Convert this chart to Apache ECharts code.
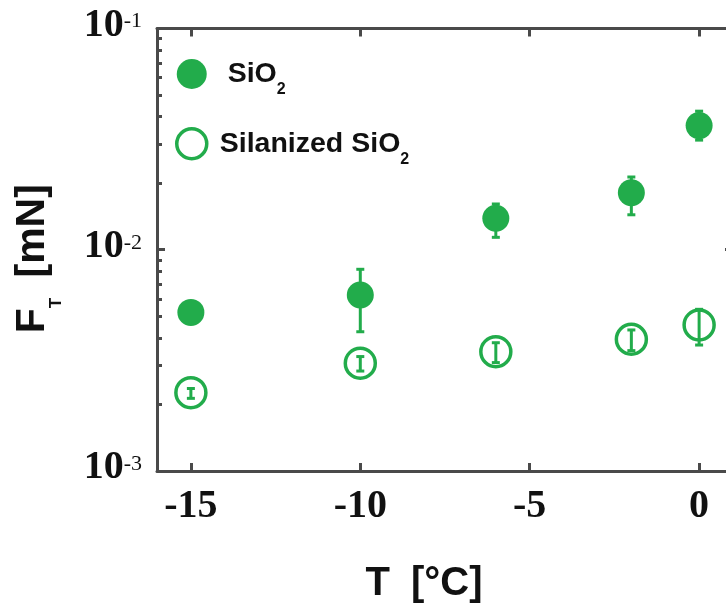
<!DOCTYPE html>
<html>
<head>
<meta charset="utf-8">
<script src="https://cdn.jsdelivr.net/npm/echarts@6/dist/echarts.min.js"></script>
<style>html,body{margin:0;padding:0;background:#fff}#c{width:726px;height:612px}</style>
</head>
<body>
<div id="c"></div>
<script>
// ---- data ----
var temps = [-15, -10, -6, -2, 0];
var sio2 = [0.00521, 0.00624, 0.01387, 0.0181, 0.0364];
var sio2Low = [0.0049, 0.00426, 0.01138, 0.01439, 0.0313];
var sio2High = [0.0055, 0.00816, 0.0161, 0.02132, 0.0423];
var silanized = [0.00226, 0.00307, 0.00346, 0.00394, 0.00457];
var silanizedLow = [0.00213, 0.00283, 0.00309, 0.0035, 0.00371];
var silanizedHigh = [0.00236, 0.00329, 0.0038, 0.00434, 0.00538];
var xTicks = [-15, -10, -5, 0];
var yTicks = [0.001, 0.01, 0.1];
var yMinorTicks = [0.002, 0.003, 0.004, 0.005, 0.006, 0.007, 0.008, 0.009,
                   0.02, 0.03, 0.04, 0.05, 0.06, 0.07, 0.08, 0.09];
var seriesNames = ['SiO2', 'Silanized SiO2'];

var GREEN = '#22ac4b';
var AXIS = '#4a4a4a';
var TXT = '#111';

function zip(a, b) { return a.map(function (v, i) { return [v, b[i]]; }); }
function zip3(a, b, c) { return a.map(function (v, i) { return [v, b[i], c[i]]; }); }

function errRender(params, api) {
  var x = api.value(0), lo = api.value(1), hi = api.value(2);
  var p1 = api.coord([x, lo]), p2 = api.coord([x, hi]);
  var hw = 4;
  var st = { stroke: GREEN, lineWidth: 3, fill: null };
  return {
    type: 'group',
    children: [
      { type: 'line', shape: { x1: p1[0], y1: p1[1], x2: p2[0], y2: p2[1] }, style: st },
      { type: 'line', shape: { x1: p1[0] - hw, y1: p1[1], x2: p1[0] + hw, y2: p1[1] }, style: st },
      { type: 'line', shape: { x1: p2[0] - hw, y1: p2[1], x2: p2[0] + hw, y2: p2[1] }, style: st }
    ]
  };
}

var chart = echarts.init(document.getElementById('c'), null, { renderer: 'canvas' });
var option = {
  animation: false,
  backgroundColor: '#fff',
  grid: { left: 157, top: 28.5, width: 576, height: 442.5, containLabel: false, outerBoundsMode: 'none' },
  legend: {
    orient: 'vertical',
    left: 170,
    top: 54,
    itemWidth: 46,
    itemHeight: 30,
    itemGap: 29,
    selectedMode: false,
    data: [
      { name: seriesNames[0], icon: 'circle', itemStyle: { color: GREEN, borderWidth: 0 } },
      { name: seriesNames[1], icon: 'circle', itemStyle: { color: 'rgba(0,0,0,0)', borderColor: GREEN, borderWidth: 3.5 } }
    ],
    formatter: function (name) {
      var t = name.replace(/2$/, '');
      return (name === seriesNames[0] ? '{m| ' : '{m|') + t + '}{s|2}';
    },
    textStyle: {
      rich: {
        m: { fontFamily: 'Liberation Sans', fontWeight: 'bold', fontSize: 28.5, lineHeight: 48, color: TXT, verticalAlign: 'middle' },
        s: { fontFamily: 'Liberation Sans', fontWeight: 'bold', fontSize: 16, lineHeight: 48, color: TXT, verticalAlign: 'bottom' }
      }
    }
  },
  xAxis: [
    {
      type: 'value', min: -16, max: 1, position: 'bottom',
      name: '{a|T}{m| [°C]}', nameLocation: 'middle', nameGap: 93,
      nameTextStyle: {
        padding: [0, 42, 0, 0],
        rich: {
          a: { fontFamily: 'Liberation Sans', fontWeight: 'bold', fontSize: 40, color: TXT, padding: [0, 10, 0, 0] },
          m: { fontFamily: 'Liberation Sans', fontWeight: 'bold', fontSize: 40, color: TXT }
        }
      },
      axisLine: { show: true, onZero: false, lineStyle: { color: AXIS, width: 3 } },
      axisTick: { show: true, inside: true, length: 8, customValues: xTicks, lineStyle: { color: AXIS, width: 3 } },
      axisLabel: { show: true, customValues: xTicks, margin: 16, fontFamily: 'Liberation Serif', fontWeight: 'bold', fontSize: 40, color: TXT },
      splitLine: { show: false }
    },
    {
      type: 'value', min: -16, max: 1, position: 'top',
      axisLine: { show: true, onZero: false, lineStyle: { color: AXIS, width: 3 } },
      axisTick: { show: true, inside: true, length: 8, customValues: xTicks, lineStyle: { color: AXIS, width: 3 } },
      axisLabel: { show: false },
      splitLine: { show: false }
    }
  ],
  yAxis: [
    {
      type: 'log', logBase: 10, min: 0.001, max: 0.1, position: 'left',
      name: '{m|F}{s|T}{m| [mN]}', nameLocation: 'middle', nameGap: 92,
      nameTextStyle: {
        padding: [0, 18, 0, 0],
        rich: {
          m: { fontFamily: 'Liberation Sans', fontWeight: 'bold', fontSize: 41, lineHeight: 41, color: TXT, verticalAlign: 'top' },
          s: { fontFamily: 'Liberation Sans', fontWeight: 'bold', fontSize: 17, lineHeight: 53, color: TXT, verticalAlign: 'bottom', padding: [0, 9, 0, 0] }
        }
      },
      axisLine: { show: true, onZero: false, lineStyle: { color: AXIS, width: 3 } },
      axisTick: { show: true, inside: true, length: 8, customValues: yTicks, lineStyle: { color: AXIS, width: 3 } },
      axisLabel: {
        show: true, customValues: yTicks, margin: 15, padding: [0, 0, 6, 0],
        formatter: function (v) { return '{b|10}{p|' + Math.round(Math.log10(v)) + '}'; },
        rich: {
          b: { fontFamily: 'Liberation Serif', fontWeight: 'bold', fontSize: 40, lineHeight: 40, color: TXT, verticalAlign: 'bottom' },
          p: { fontFamily: 'Liberation Serif', fontWeight: 'normal', fontSize: 22, lineHeight: 22, color: TXT, verticalAlign: 'top', padding: [5, 0, 0, 0] }
        }
      },
      splitLine: { show: false }
    },
    {
      type: 'log', logBase: 10, min: 0.001, max: 0.1, position: 'left',
      axisLine: { show: false, onZero: false },
      axisTick: { show: true, inside: true, length: 5, customValues: yMinorTicks, lineStyle: { color: AXIS, width: 3 } },
      axisLabel: { show: false },
      splitLine: { show: false }
    },
    {
      type: 'log', logBase: 10, min: 0.001, max: 0.1, position: 'right',
      axisLine: { show: true, onZero: false, lineStyle: { color: AXIS, width: 3 } },
      axisTick: { show: true, inside: true, length: 8, customValues: yTicks, lineStyle: { color: AXIS, width: 3 } },
      axisLabel: { show: false },
      splitLine: { show: false }
    }
  ],
  series: [
    {
      type: 'custom', name: 'err1', xAxisIndex: 0, yAxisIndex: 0,
      renderItem: errRender, encode: { x: 0, y: [1, 2] },
      data: zip3(temps, sio2Low, sio2High), z: 2, silent: true
    },
    {
      type: 'custom', name: 'err2', xAxisIndex: 0, yAxisIndex: 0,
      renderItem: errRender, encode: { x: 0, y: [1, 2] },
      data: zip3(temps, silanizedLow, silanizedHigh), z: 4, silent: true
    },
    {
      type: 'scatter', name: seriesNames[0], xAxisIndex: 0, yAxisIndex: 0,
      symbol: 'circle', symbolSize: 27,
      itemStyle: { color: GREEN, opacity: 1 },
      data: zip(temps, sio2), z: 3
    },
    {
      type: 'scatter', name: seriesNames[1], xAxisIndex: 0, yAxisIndex: 0,
      symbol: 'circle', symbolSize: 30,
      itemStyle: { color: 'rgba(0,0,0,0)', borderColor: GREEN, borderWidth: 3.5, opacity: 1 },
      data: zip(temps, silanized), z: 3
    }
  ]
};
chart.setOption(option);
</script>
</body>
</html>
